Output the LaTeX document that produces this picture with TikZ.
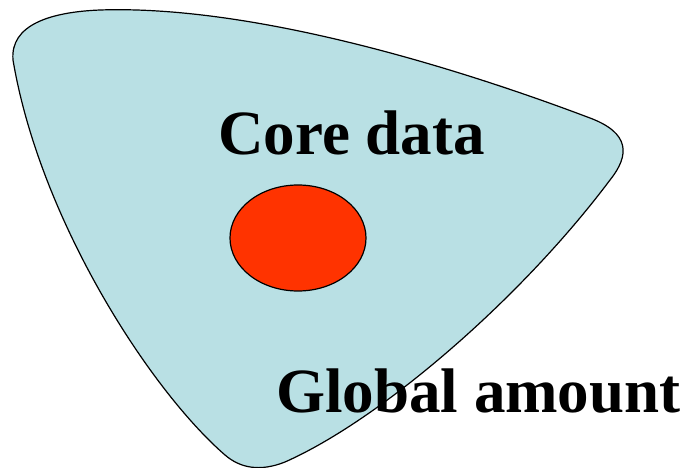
\documentclass[tikz,border=0pt]{standalone}
\usepackage{fontspec}
\setmainfont{Liberation Serif}
\usetikzlibrary{shapes.geometric}
\definecolor{blobfill}{RGB}{185,224,228}
\definecolor{corered}{RGB}{255,51,0}
\tikzset{
  blob/.style={draw=black, line width=1.2pt, fill=blobfill},
  coreshape/.style={ellipse, draw=black, line width=1.2pt, fill=corered, inner sep=0pt, minimum width=136pt, minimum height=106pt},
  biglabel/.style={anchor=base west, inner sep=0pt, font=\bfseries\fontsize{63}{70}\selectfont}
}
\begin{document}
\begin{tikzpicture}[x=1pt,y=-1pt]
\useasboundingbox (0,0) rectangle (689,468);
\path[blob] (13,60)
  .. controls (10,25) and (50,12) .. (100,10)
  .. controls (250,5) and (450,65) .. (590,118)
  .. controls (630,133) and (630,155) .. (610,180)
  .. controls (520,300) and (380,420) .. (285,462)
  .. controls (260,472) and (240,468) .. (225,455)
  .. controls (150,390) and (40,220) .. (13,60) -- cycle;
\node[coreshape] (core) at (298,238) {};
\node[biglabel] (coretext) at (218,155) {Core data};
\node[biglabel] (globaltext) at (276,412) {Global amount};
\end{tikzpicture}
\end{document}
